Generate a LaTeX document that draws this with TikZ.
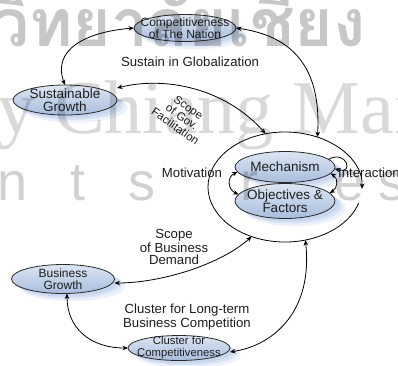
\documentclass[tikz,border=0pt]{standalone}
\usepackage{fontspec}
\setmainfont{Liberation Sans}
\newfontfamily\markserif{Liberation Serif}
\newfontfamily\markthai[Script=Thai]{Loma}
\usetikzlibrary{arrows.meta,shadows,calc,shapes.geometric}
\definecolor{edgecol}{HTML}{2A2A2A}
\definecolor{topc}{HTML}{DCE6F3}
\definecolor{botc}{HTML}{A8BDDC}
\definecolor{shadowc}{HTML}{B9CDEC}
\definecolor{inkc}{HTML}{1E1E1E}
\begin{document}
\begin{tikzpicture}[x=1pt,y=-1pt,
  blob/.style={ellipse, draw=edgecol, line width=0.8pt, top color=topc, bottom color=botc,
    inner sep=0pt, outer sep=0pt,
    general shadow={shadow xshift=9pt, shadow yshift=-7pt, shadow scale=1.03, fill=shadowc, opacity=0.25},
    general shadow={shadow xshift=7pt, shadow yshift=-5pt, fill=shadowc, opacity=0.4},
    general shadow={shadow xshift=4pt, shadow yshift=-3pt, fill=shadowc, opacity=0.5}},
  txt/.style={font=\fontsize{13.5}{12.5}\selectfont, text=inkc, align=center, inner sep=0pt},
  lbl/.style={font=\fontsize{13.2}{12}\selectfont, text=inkc, align=center, inner sep=0pt},
  link/.style={line width=0.8pt, draw=black, {Stealth[length=5.5pt,width=4.5pt]}-{Stealth[length=5.5pt,width=4.5pt]}},
  ring/.style={line width=0.8pt, draw=black, -{Stealth[length=5.5pt,width=4.5pt]}},
  wmark/.style={text=black, inner sep=0pt, anchor=base west}]
\useasboundingbox (0,0) rectangle (398,365);
\fill[white] (0,0) rectangle (398,365);

% central cycle
\node[ellipse, minimum width=154pt, minimum height=110pt, inner sep=0pt, outer sep=0pt] (big) at (285,187) {};
\draw[ring] ([shift={(-17:77pt and 55pt)}]big.center)
  arc[start angle=-17, end angle=-362, x radius=77pt, y radius=55pt];

% ellipses
\node[blob, minimum width=102pt, minimum height=27pt,
  label={[txt,font=\fontsize{12}{12.5}\selectfont]center:{Competitiveness\\of The Nation}}] (nation) at (185,28) {};
\node[blob, minimum width=104pt, minimum height=30pt,
  label={[txt]center:{Sustainable\\Growth}}] (sust) at (65,100) {};
\node[blob, minimum width=100pt, minimum height=31pt,
  label={[txt]center:{Mechanism}}] (mech) at (285,167) {};
\node[blob, minimum width=100pt, minimum height=35pt,
  label={[txt]center:{Objectives \&\\Factors}}] (obj) at (285,201) {};
\node[blob, minimum width=103pt, minimum height=29pt,
  label={[txt,font=\fontsize{12}{12.5}\selectfont]center:{Business\\Growth}}] (bus) at (63,279) {};
\node[blob, minimum width=102pt, minimum height=25pt,
  label={[txt,font=\fontsize{11.3}{12}\selectfont]center:{Cluster for\\Competitiveness}}] (clus) at (179,348) {};

% labels
\node[lbl] (glob) at (190,62) {Sustain in Globalization};
\node[lbl, font=\fontsize{11.5}{11.5}\selectfont, rotate=-35] (gov) at (182,117) {Scope\\of Gov.\\Facilitation};
\node[lbl] (dem) at (174,247) {Scope\\of Business\\Demand};
\node[lbl] (long) at (187,317) {Cluster for Long-term\\Business Competition};
\node[lbl] (mot) at (192,173) {Motivation};
\node[lbl, anchor=west] (inter) at (338,173) {Interaction};

% connectors
\draw[link] (nation.west) .. controls (85,32) and (52,50) .. (sust.north);
\draw[link] (nation.east) .. controls (285,35) and (322,60) .. (big.57);
\draw[link] ([yshift=12pt]sust.east) .. controls (165,76) and (225,88) .. (big.110);
\draw[link] ([yshift=-4pt]bus.east) .. controls (160,283) and (220,265) .. (big.236);
\draw[link] ([xshift=4pt]bus.south) .. controls (67,328) and (90,348) .. (clus.west);
\draw[link] ([yshift=-4pt]clus.east) .. controls (275,345) and (313,310) .. (big.291);

% inner links
\draw[link] (mech.186) .. controls +(-11,5) and +(-11,-5) .. (obj.172);
\draw[link] (mech.-8) .. controls +(8,5) and +(8,-5) .. (obj.10);
\draw[ring] (mech.10) .. controls +(18,-10) and +(20,6) .. (mech.-2);

% faint lettering laid over everything
\node[wmark, text opacity=0.22, font=\markthai\bfseries\fontsize{66}{66}\selectfont] (wm1) at (-8,46) {วิทยาลัยเชียง};
\node[wmark, text opacity=0.15, font=\markserif\fontsize{76}{76}\selectfont] (wm2) at (-3,133) {y Chiang Mai};
\node[wmark, text opacity=0.18, font=\fontsize{54}{54}\selectfont] (wm3) at (-3,200) {n};
\node[wmark, text opacity=0.18, font=\fontsize{54}{54}\selectfont] (wm4) at (70,200) {t};
\node[wmark, text opacity=0.18, font=\fontsize{54}{54}\selectfont] (wm5) at (128,200) {s};
\node[wmark, text opacity=0.18, font=\fontsize{54}{54}\selectfont] (wm6) at (240,200) {r};
\node[wmark, text opacity=0.18, font=\fontsize{54}{54}\selectfont] (wm7) at (334,200) {e};
\node[wmark, text opacity=0.18, font=\fontsize{54}{54}\selectfont] (wm8) at (378,200) {s};
\end{tikzpicture}
\end{document}
